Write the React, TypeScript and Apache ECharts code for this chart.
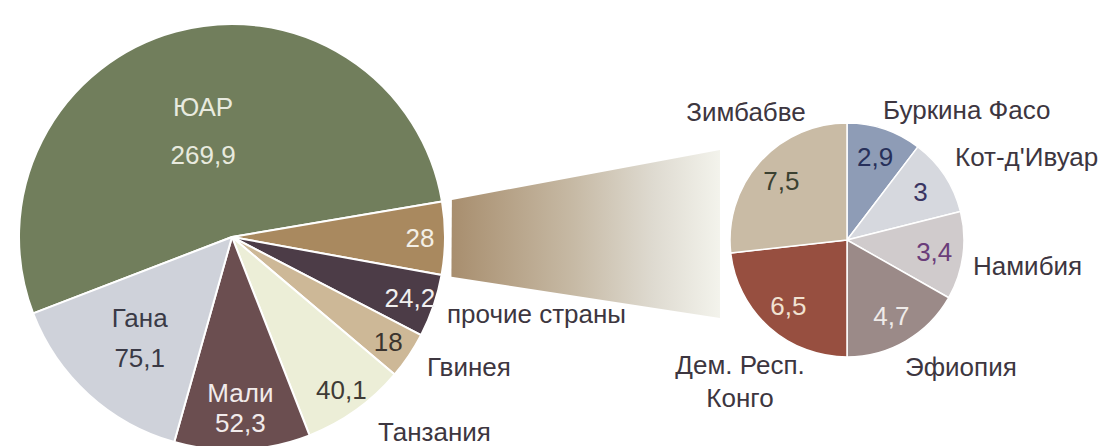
import React, { useEffect, useRef } from "react";
import * as echarts from "echarts";

// ---- data ----
const leftNames = ["ЮАР", "шесть стран", "прочие страны", "Гвинея", "Танзания", "Мали", "Гана"];
const leftValues = [269.9, 28, 24.2, 18, 40.1, 52.3, 75.1];
const rightNames = ["Буркина Фасо", "Кот-д'Ивуар", "Намибия", "Эфиопия", "Дем. Респ.\nКонго", "Зимбабве"];
const rightValues = [2.9, 3, 3.4, 4.7, 6.5, 7.5];

// ---- styles ----
const leftColors = ["#717e5c", "#a9895f", "#4c3c47", "#cdb897", "#eceed7", "#6b4e50", "#cfd2da"];
const leftValueColors = ["#e8eadf", "#f3efe6", "#f1f0f0", "#3b342e", "#3f3b35", "#f2ebeb", "#3a3a46"];
const rightColors = ["#8e9cb6", "#d6d8de", "#d0cbcc", "#9b8a88", "#974f40", "#c9bba5"];
const rightValueColors = ["#27305a", "#3a3562", "#6a3d7a", "#efebe9", "#f1e2d2", "#3b4131"];

const FONT = "'Liberation Sans', Arial, sans-serif";
const NAME_COLOR = "#3d3640";
const FS = 26;

const L = { cx: 232, cy: 237, r: 213, start: 201 };
const R = { cx: 847, cy: 240, r: 117, start: 90 };

// label placement (layout only)
const leftNamePos: Record<number, [number, number, string]> = {
  2: [447, 314, "left"],
  3: [427, 367, "left"],
  4: [378, 432, "left"],
};
const rightNamePos: Record<number, [number, number, string]> = {
  0: [883, 110, "left"],
  1: [955, 157, "left"],
  2: [973, 266, "left"],
  3: [905, 367, "left"],
  4: [740, 381, "center"],
  5: [746, 112, "center"],
};

const fmt = (v: number) => String(v).replace(".", ",");

function labelRing(
  center: { cx: number; cy: number; start: number },
  r0: number,
  r1: number,
  names: string[],
  values: number[],
  show: number[],
  colors: string[],
  withName: Record<number, number> = {}
) {
  return {
    type: "pie",
    silent: true,
    center: [center.cx, center.cy],
    radius: [r0, r1],
    startAngle: center.start,
    clockwise: true,
    avoidLabelOverlap: false,
    itemStyle: { color: "rgba(0,0,0,0)", borderWidth: 0 },
    labelLine: { show: false },
    emphasis: { disabled: true },
    z: 5,
    data: values.map((v, i) => ({
      value: v,
      name: names[i],
      label: {
        show: show.includes(i),
        position: "inside",
        color: colors[i],
        fontSize: FS,
        fontFamily: FONT,
        lineHeight: withName[i] || FS,
        formatter: withName[i] ? `${names[i]}\n${fmt(v)}` : fmt(v),
      },
    })),
  };
}

function nameRing(
  center: { cx: number; cy: number; r: number; start: number },
  names: string[],
  values: number[],
  pos: Record<number, [number, number, string]>
) {
  return {
    type: "pie",
    silent: true,
    center: [center.cx, center.cy],
    radius: [0, center.r],
    startAngle: center.start,
    avoidLabelOverlap: false,
    itemStyle: { color: "rgba(0,0,0,0)", borderWidth: 0 },
    labelLine: { show: false },
    emphasis: { disabled: true },
    z: 6,
    labelLayout: (p: any) => {
      const q = pos[p.dataIndex];
      if (!q) return {};
      return { x: q[0], y: q[1], align: q[2], verticalAlign: "middle" };
    },
    data: values.map((v, i) => ({
      value: v,
      name: names[i],
      label: {
        show: !!pos[i],
        position: "outside",
        color: NAME_COLOR,
        fontSize: FS,
        fontFamily: FONT,
        lineHeight: 33,
        align: pos[i] ? pos[i][2] : "left",
        formatter: "{b}",
      },
    })),
  };
}

export default function App() {
  const ref = useRef<HTMLDivElement>(null);
  useEffect(() => {
    if (!ref.current) return;
    const chart = echarts.init(ref.current, undefined, { renderer: "svg" });

    const total = leftValues.reduce((a, b) => a + b, 0);
    const a0 = L.start - (360 * leftValues[0]) / total;
    const a1 = a0 - (360 * leftValues[1]) / total;
    const rad = (d: number) => (d * Math.PI) / 180;
    const RB = L.r + 10;
    const bandPts = [
      [L.cx + RB * Math.cos(rad(a0)), L.cy - RB * Math.sin(rad(a0))],
      [R.cx - R.r - 10, R.cy - 90],
      [R.cx - R.r - 10, R.cy + 78],
      [L.cx + RB * Math.cos(rad(a1)), L.cy - RB * Math.sin(rad(a1))],
    ];

    chart.setOption({
      animation: false,
      backgroundColor: "#ffffff",
      textStyle: { fontFamily: FONT },
      graphic: [
        {
          type: "polygon",
          z: 0,
          shape: { points: bandPts },
          style: {
            fill: new echarts.graphic.LinearGradient(0, 0, 1, 0, [
              { offset: 0, color: "#a88e6e" },
              { offset: 0.45, color: "#c6b9a4" },
              { offset: 0.75, color: "#dedad0" },
              { offset: 1, color: "#f3f3ec" },
            ]),
          },
        },
      ],
      series: [
        {
          type: "pie",
          center: [L.cx, L.cy],
          radius: [0, L.r],
          startAngle: L.start,
          silent: true,
          avoidLabelOverlap: false,
          labelLine: { show: false },
          itemStyle: { borderColor: "#ffffff", borderWidth: 2 },
          data: leftValues.map((v, i) => ({
            value: v,
            name: leftNames[i],
            itemStyle: { color: leftColors[i] },
            label: {
              show: i === 0,
              position: "inside",
              color: leftValueColors[i],
              fontSize: FS,
              fontFamily: FONT,
              lineHeight: 48,
              formatter: `${leftNames[i]}\n${fmt(v)}`,
            },
          })),
        },
        labelRing(L, 55, L.r, leftNames, leftValues, [6], leftValueColors, { 6: 40 }),
        labelRing(L, 123, L.r, leftNames, leftValues, [5], leftValueColors, { 5: 30 }),
        labelRing(L, 157, L.r, leftNames, leftValues, [1, 2, 3, 4], leftValueColors),
        nameRing(L, leftNames, leftValues, leftNamePos),
        {
          type: "pie",
          center: [R.cx, R.cy],
          radius: [0, R.r],
          startAngle: R.start,
          silent: true,
          label: { show: false },
          labelLine: { show: false },
          itemStyle: { borderColor: "#ffffff", borderWidth: 1.5 },
          data: rightValues.map((v, i) => ({
            value: v,
            name: rightNames[i],
            itemStyle: { color: rightColors[i] },
          })),
        },
        labelRing(R, 53, R.r, rightNames, rightValues, [0, 1, 2, 3, 4, 5], rightValueColors),
        nameRing(R, rightNames, rightValues, rightNamePos),
      ],
    });
    return () => chart.dispose();
  }, []);
  return (
    <div
      ref={ref}
      style={{ position: "absolute", left: 0, top: 0, width: 1107, height: 446 }}
    />
  );
}
